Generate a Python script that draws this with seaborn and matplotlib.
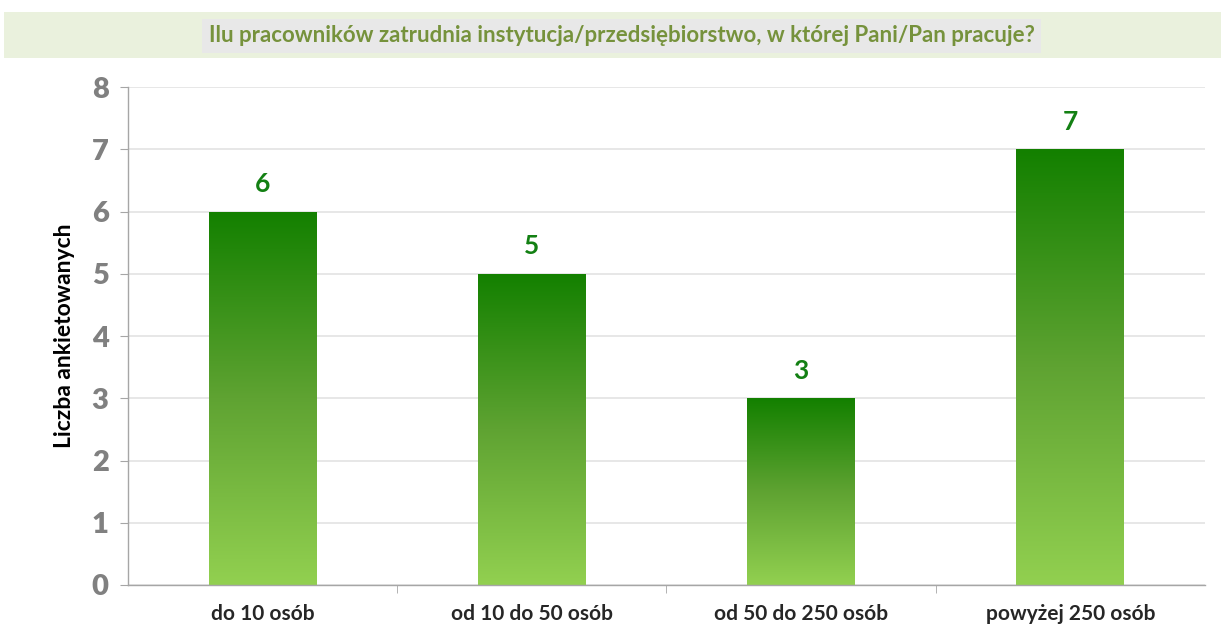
import matplotlib
matplotlib.use("Agg")
import matplotlib.pyplot as plt
import seaborn as sns
import numpy as np
import pandas as pd
from matplotlib.colors import LinearSegmentedColormap
from matplotlib.patches import Rectangle

# Data
categories = ["do 10 osób", "od 10 do 50 osób", "od 50 do 250 osób", "powyżej 250 osób"]
counts = [6, 5, 3, 7]
title = "Ilu pracowników zatrudnia instytucja/przedsiębiorstwo, w której Pani/Pan pracuje?"
ylabel = "Liczba ankietowanych"

df = pd.DataFrame({"kategoria": categories, "liczba": counts})

sns.set_style("white")
plt.rcParams["font.family"] = ["Lato", "DejaVu Sans"]

fig = plt.figure(figsize=(12.21, 6.27), dpi=100)
ax = fig.add_axes([0.1048, 0.067, 0.882, 0.794])

sns.barplot(data=df, x="kategoria", y="liczba", color="#92D050", width=0.4, ax=ax)

# gradient fill: dark green at the top of each bar -> light green at the bottom
cmap = LinearSegmentedColormap.from_list("g", ["#92D050", "#5FA332", "#138000"])
grad = np.linspace(0, 1, 256).reshape(-1, 1)
for p in ax.patches:
    x0, y0 = p.get_x(), p.get_y()
    w, h = p.get_width(), p.get_height()
    p.set_alpha(0)
    im = ax.imshow(grad, cmap=cmap, aspect="auto", origin="lower",
                   extent=[x0, x0 + w, y0, y0 + h], zorder=2)
    clip = Rectangle((x0, y0), w, h, transform=ax.transData)
    im.set_clip_path(clip)
    ax.text(x0 + w / 2, h + 0.25, str(int(h)), ha="center", va="bottom",
            fontsize=19, fontweight="bold", color="#138013")

ax.set_xlim(-0.5, 3.5)
ax.set_ylim(0, 8)
ax.set_yticks(range(0, 9))
ax.yaxis.grid(True, color="#E3E3E3", linewidth=1.2)
ax.set_axisbelow(True)

ax.tick_params(axis="y", labelsize=21, labelcolor="#808080", length=6,
               color="#A6A6A6", direction="out", left=True, pad=8)
for t in ax.get_yticklabels():
    t.set_fontweight("heavy")
ax.tick_params(axis="x", which="major", length=0, labelsize=15, pad=14)
for t in ax.get_xticklabels():
    t.set_fontweight("bold")
ax.set_xticks([0.5, 1.5, 2.5], minor=True)
ax.tick_params(axis="x", which="minor", length=6, color="#A6A6A6", direction="out", bottom=True)

for s in ["top", "right"]:
    ax.spines[s].set_visible(False)
for s in ["left", "bottom"]:
    ax.spines[s].set_color("#A6A6A6")
    ax.spines[s].set_linewidth(1)

ax.set_xlabel("")
ax.set_ylabel(ylabel, fontsize=16.5, fontweight="bold", color="black", labelpad=12)

# title band
fig.patches.append(Rectangle((0.003, 1 - 58 / 627), 0.997, 46 / 627, transform=fig.transFigure,
                             facecolor="#EAF1DD", edgecolor="none", zorder=0))
fig.text(0.509, 1 - 36 / 627, title, ha="center", va="center", fontsize=16,
         fontweight="bold", color="#76923C",
         bbox=dict(facecolor="#E8E8E8", edgecolor="none", pad=5))

fig.savefig("out.png", dpi=100)
